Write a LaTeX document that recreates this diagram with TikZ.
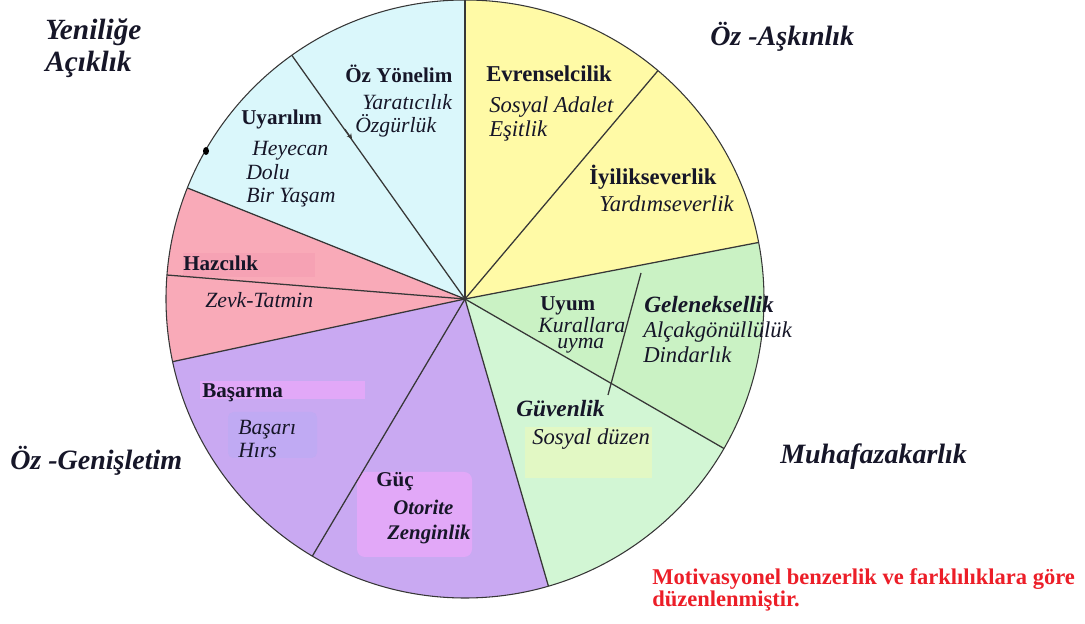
\documentclass[tikz,border=0pt]{standalone}
\usepackage{fontspec}
\setmainfont{Liberation Serif}
\usetikzlibrary{arrows.meta}
\definecolor{cyanw}{RGB}{218,247,251}
\definecolor{yelw}{RGB}{255,250,166}
\definecolor{greenw}{RGB}{202,242,196}
\definecolor{greenl}{RGB}{210,246,212}
\definecolor{pinkw}{RGB}{249,170,184}
\definecolor{pinkh}{RGB}{246,162,180}
\definecolor{purw}{RGB}{201,169,242}
\definecolor{purh}{RGB}{226,168,248}
\definecolor{purb}{RGB}{192,170,243}
\definecolor{yelh}{RGB}{226,248,196}
\definecolor{ink}{RGB}{22,22,40}
\definecolor{redt}{RGB}{236,30,40}
\definecolor{edge}{RGB}{55,55,55}
\tikzset{
  ttl/.style={anchor=base west, inner sep=0pt, text=ink, font=\fontsize{15.8}{17}\selectfont\bfseries},
  ttlr/.style={ttl, font=\fontsize{17}{18}\selectfont\bfseries},
  sub/.style={anchor=base west, inner sep=0pt, text=ink, font=\fontsize{16.3}{18}\selectfont\itshape},
  subr/.style={sub, font=\fontsize{17}{18}\selectfont\itshape},
  bsub/.style={anchor=base west, inner sep=0pt, text=ink, font=\fontsize{15.6}{17}\selectfont\bfseries\itshape},
  bsubr/.style={bsub, font=\fontsize{17.5}{18}\selectfont\bfseries\itshape},
  outer/.style={anchor=base west, inner sep=0pt, text=ink, font=\fontsize{21}{22}\selectfont\bfseries\itshape},
  note/.style={anchor=base west, inner sep=0pt, text=redt, font=\fontsize{16.9}{18}\selectfont\bfseries},
  divider/.style={draw=edge, line width=0.95pt},
}
\begin{document}
\begin{tikzpicture}[x=0.75pt,y=0.75pt]
\useasboundingbox (0,0) rectangle (1085,624);
\coordinate (C) at (465,325);
\def\R{299}
% wedges
\fill[cyanw] (C) -- ++(90:\R) arc[start angle=90, end angle=158.2, radius=\R] -- cycle;
\fill[pinkw] (C) -- ++(158.2:\R) arc[start angle=158.2, end angle=192.1, radius=\R] -- cycle;
\fill[purw] (C) -- ++(192.1:\R) arc[start angle=192.1, end angle=286.2, radius=\R] -- cycle;
\fill[greenl] (C) -- ++(286.2:\R) arc[start angle=286.2, end angle=330, radius=\R] -- cycle;
\fill[greenw] (C) -- ++(330:\R) arc[start angle=330, end angle=370.9, radius=\R] -- cycle;
\fill[yelw] (C) -- ++(10.9:\R) arc[start angle=10.9, end angle=90, radius=\R] -- cycle;
% highlight patches
\fill[pinkh] (183,347) rectangle (315,371);
\fill[purh] (200,225) rectangle (365,243);
\fill[purb, rounded corners=4pt] (228,166) rectangle (317,212);
\fill[purh, rounded corners=6pt] (357,67) rectangle (472,152);
\fill[yelh] (525,146) rectangle (652,197);
% dividers
\foreach \a in {90,125.4,158.2,175.4,192.1,239.3,286.2,330,10.9,49.8}
  \draw[divider] (C) -- ++(\a:\R);
\coordinate (u1) at (641,351);
\coordinate (u2) at (608,229);
\draw[divider] (u1) -- (u2);
\draw[edge, line width=0.8pt] (C) circle[radius=\R];
% small marks
\coordinate (m1) at (345,495);
\coordinate (m2) at (352,485);
\draw[edge, line width=0.6pt, -{Stealth[length=4pt,width=4pt]}] (m1) -- (m2);
\fill[black] (206,473) ellipse[x radius=3, y radius=4];
% labels
\node[ttl] (ozy) at (345,541) {Öz Yönelim};
\node[sub] (yar) at (362,514) {Yaratıcılık};
\node[sub] (ozg) at (355,491) {Özgürlük};
\node[ttl] (uya) at (241,499) {Uyarılım};
\node[sub] (hey) at (252,468) {Heyecan};
\node[sub] (dol) at (246,444) {Dolu};
\node[sub] (bir) at (246,421) {Bir Yaşam};
\node[ttl] (haz) at (183,353) {Hazcılık};
\node[sub] (zev) at (205,316) {Zevk-Tatmin};
\node[ttl] (bas) at (202,226) {Başarma};
\node[sub] (bsr) at (238,189) {Başarı};
\node[sub] (hrs) at (238,166) {Hırs};
\node[ttl] (guc) at (376,137) {Güç};
\node[bsub] (oto) at (393,109) {Otorite};
\node[bsub] (zen) at (387,84) {Zenginlik};
\node[ttlr] (evr) at (486,542) {Evrenselcilik};
\node[subr] (sad) at (489,511) {Sosyal Adalet};
\node[subr] (esi) at (489,487) {Eşitlik};
\node[ttlr] (iyi) at (589,439) {İyilikseverlik};
\node[subr] (yrd) at (599,412) {Yardımseverlik};
\node[ttl] (uyu) at (540,313) {Uyum};
\node[sub] (kur) at (538,291) {Kurallara};
\node[sub] (uym) at (557,275) {uyma};
\node[bsubr] (gel) at (644,311) {Geleneksellik};
\node[subr] (alc) at (643,286) {Alçakgönüllülük};
\node[subr] (din) at (643,261) {Dindarlık};
\node[bsubr] (guv) at (516,207) {Güvenlik};
\node[subr] (sdz) at (532,179) {Sosyal düzen};
% outer labels
\node[outer, font=\fontsize{22}{23}\selectfont\bfseries\itshape] (yen) at (45,584) {Yeniliğe};
\node[outer, font=\fontsize{22}{23}\selectfont\bfseries\itshape] (aci) at (45,552) {Açıklık};
\node[outer] (ask) at (710,578) {Öz -Aşkınlık};
\node[outer] (muh) at (780,160) {Muhafazakarlık};
\node[outer] (gen) at (10,154) {Öz -Genişletim};
\node[note] (n1) at (652,39) {Motivasyonel benzerlik ve farklılıklara göre};
\node[note] (n2) at (652,17) {düzenlenmiştir.};
\end{tikzpicture}
\end{document}
